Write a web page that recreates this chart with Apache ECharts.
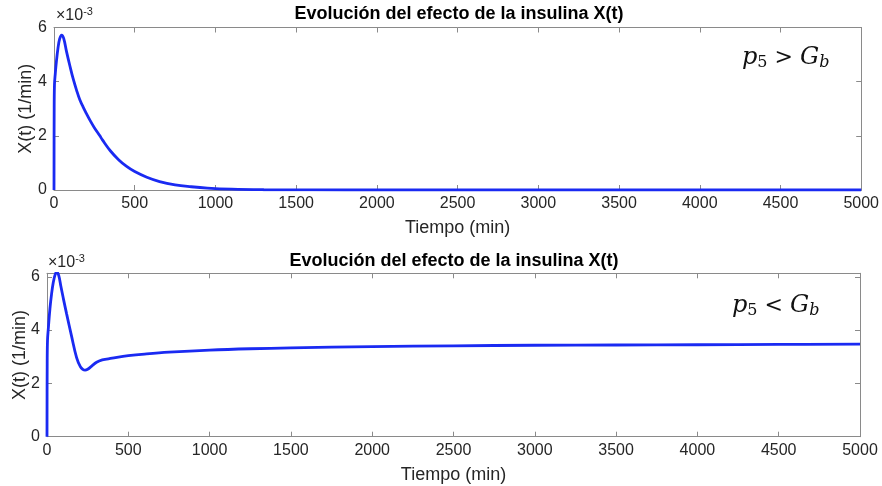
<!DOCTYPE html>
<html>
<head>
<meta charset="utf-8">
<script src="https://cdn.jsdelivr.net/npm/echarts@6/dist/echarts.min.js"></script>
<style>html,body{margin:0;padding:0;background:#fff;overflow:hidden}#c{width:882px;height:486px}</style>
</head>
<body>
<div id="c"></div>
<script>
// Values in units of 1e-3 (1/min)
const tTop = [0,1,3,8,15,25,35,47,60,78,99,119,140,160,180,200,225,250,284,300,350,400,450,500,575,654,750,850,950,1100,1300,1600,2000,3000,4000,5000];
const xTop = [0,2.8,3.9,4.3,4.75,5.25,5.58,5.72,5.6,5.1,4.57,4.1,3.68,3.33,3.07,2.83,2.55,2.3,2.0,1.85,1.44,1.12,0.87,0.68,0.47,0.31,0.19,0.12,0.07,0.03,0.01,0.002,0,0,0,0];
const tBot = [0,1,3,8,18,28,39,50,60,72,85,100,121,150,182,205,220,234,250,275,305,340,367,430,500,600,750,1000,1250,1500,2000,2500,3000,3500,4000,4500,5000];
const xBot = [0,2.5,3.6,4.05,4.8,5.35,5.8,6.08,6.18,6.05,5.65,5.2,4.6,3.8,2.97,2.63,2.53,2.5,2.53,2.65,2.79,2.88,2.91,2.98,3.04,3.1,3.17,3.25,3.3,3.33,3.38,3.41,3.43,3.44,3.45,3.46,3.47];
const titleText = 'Evolución del efecto de la insulina X(t)';
const xName = 'Tiempo (min)';
const yName = 'X(t) (1/min)';
const xMin = 0, xMax = 5000, xStep = 500;
const yTopMax = 6, yBotMax = 6.13, yStep = 2;

const FONT = 'Liberation Sans, Arial, sans-serif';
const AX = '#8a8a8a', TXT = '#262626', BLUE = '#1a2af2';

function xAx(grid, pos, labels, gap) {
  return {
    type: 'value', gridIndex: grid, position: pos, min: xMin, max: xMax, interval: xStep,
    axisLine: {show: true, onZero: false, lineStyle: {color: AX, width: 1}},
    axisTick: {show: true, inside: true, length: 5, lineStyle: {color: AX}},
    axisLabel: {show: labels, fontSize: 16, color: TXT, fontFamily: FONT, margin: 6, formatter: v => String(v)},
    splitLine: {show: false},
    name: labels ? xName : '', nameLocation: 'middle', nameGap: gap || 29, nameMoveOverlap: false,
    nameTextStyle: {fontSize: 18, color: TXT, fontFamily: FONT}
  };
}
function yAx(grid, pos, labels, max, gap) {
  return {
    type: 'value', gridIndex: grid, position: pos, min: 0, max: max, interval: yStep,
    axisLine: {show: true, onZero: false, lineStyle: {color: AX, width: 1}},
    axisTick: {show: true, inside: true, length: 5, lineStyle: {color: AX}},
    axisLabel: {show: labels, fontSize: 16, color: TXT, fontFamily: FONT, margin: 7, showMaxLabel: max === yTopMax, formatter: v => String(v)},
    splitLine: {show: false},
    name: labels ? yName : '', nameLocation: 'middle', nameGap: gap || 19, nameMoveOverlap: false,
    nameTextStyle: {fontSize: 18, color: TXT, fontFamily: FONT}
  };
}
function pairs(t, v) { return t.map((x, i) => [x, v[i]]); }

const mathRich = {
  i: {fontFamily: 'DejaVu Serif', fontStyle: 'italic', fontWeight: 'normal', fontSize: 24, lineHeight: 26, color: '#111'},
  n: {fontFamily: 'DejaVu Serif', fontWeight: 'normal', fontSize: 16, lineHeight: 6, verticalAlign: 'bottom', color: '#111'},
  si: {fontFamily: 'DejaVu Serif', fontStyle: 'italic', fontWeight: 'normal', fontSize: 16, lineHeight: 6, verticalAlign: 'bottom', color: '#111'},
  o: {fontFamily: 'DejaVu Serif', fontWeight: 'normal', fontSize: 22, lineHeight: 26, color: '#111', padding: [0, 7, 0, 7]}
};
const expRich = {
  a: {fontFamily: FONT, fontWeight: 'normal', fontSize: 16, lineHeight: 20, color: TXT},
  s: {fontFamily: FONT, fontWeight: 'normal', fontSize: 11, lineHeight: 8, verticalAlign: 'top', color: TXT}
};

const chart = echarts.init(document.getElementById('c'), null, {renderer: 'canvas'});
chart.setOption({
  backgroundColor: '#ffffff',
  animation: false,
  title: [
    {text: titleText, left: 459, top: 4, textAlign: 'center', padding: 0,
     textStyle: {fontSize: 18, fontWeight: 'bold', color: '#000', fontFamily: FONT, lineHeight: 20}},
    {text: titleText, left: 454, top: 251, textAlign: 'center', padding: 0,
     textStyle: {fontSize: 18, fontWeight: 'bold', color: '#000', fontFamily: FONT, lineHeight: 20}},
    {text: '{a|×10}{s|-3}', left: 56, top: 6, padding: 0, textStyle: {fontWeight: 'normal', rich: expRich}},
    {text: '{a|×10}{s|-3}', left: 48, top: 253, padding: 0, textStyle: {fontWeight: 'normal', rich: expRich}},
    {text: '{i|p}{n|5}{o|>}{i|G}{si|b}', left: 742, top: 45, padding: 0, textStyle: {fontWeight: 'normal', rich: mathRich}},
    {text: '{i|p}{n|5}{o|<}{i|G}{si|b}', left: 732, top: 293, padding: 0, textStyle: {fontWeight: 'normal', rich: mathRich}}
  ],
  grid: [
    {left: 54, top: 27.5, width: 810, height: 162.5, containLabel: false},
    {left: 47, top: 273.3, width: 813, height: 163.4, containLabel: false}
  ],
  xAxis: [xAx(0, 'bottom', true), xAx(0, 'top', false), xAx(1, 'bottom', true), xAx(1, 'top', false)],
  yAxis: [yAx(0, 'left', true, yTopMax, 19), yAx(0, 'right', false, yTopMax), yAx(1, 'left', true, yBotMax, 18), yAx(1, 'right', false, yBotMax)],
  series: [
    {type: 'line', xAxisIndex: 0, yAxisIndex: 0, data: pairs(tTop, xTop), showSymbol: false, smooth: 0.4,
     clip: true, lineStyle: {color: BLUE, width: 2.8}, itemStyle: {color: BLUE}},
    {type: 'line', xAxisIndex: 2, yAxisIndex: 2, data: pairs(tBot, xBot), showSymbol: false, smooth: 0.4,
     clip: true, lineStyle: {color: BLUE, width: 2.8}, itemStyle: {color: BLUE}}
  ]
});
</script>
</body>
</html>
